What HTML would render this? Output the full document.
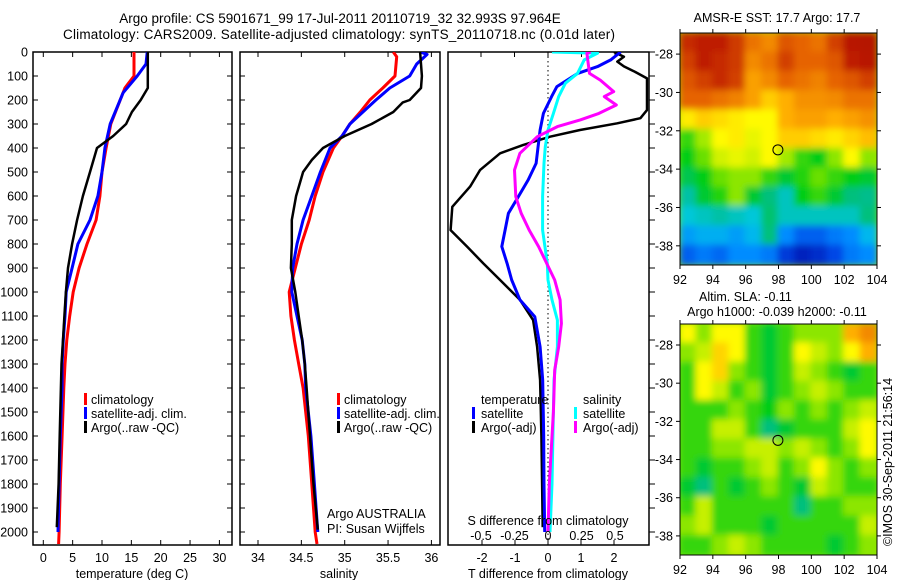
<!DOCTYPE html>
<html><head><meta charset="utf-8">
<style>
html,body{margin:0;padding:0;background:#fff;}
svg{display:block;font-family:"Liberation Sans",sans-serif;}
text{font-size:12.5px;fill:#000;}
</style></head>
<body>
<svg id="chart" width="900" height="580" viewBox="0 0 900 580" xmlns="http://www.w3.org/2000/svg">
<text x="340" y="23" text-anchor="middle" style="font-size:13.5px">Argo profile: CS 5901671_99 17-Jul-2011 20110719_32 32.993S 97.964E</text>
<text x="339" y="39" text-anchor="middle" style="font-size:13.5px" textLength="552">Climatology: CARS2009. Satellite-adjusted climatology: synTS_20110718.nc (0.01d later)</text>
<g id="panels"></g>
</svg>
<script>
// ---- data ----
const depthTicks = [0,100,200,300,400,500,600,700,800,900,1000,1100,1200,1300,1400,1500,1600,1700,1800,1900,2000];
const tempTicks = [0,5,10,15,20,25,30];
const salTicks = [34,34.5,35,35.5,36];
const salTickLabels = ["34","34.5","35","35.5","36"];
const tdTicks = [-2,-1,0,1,2];
const sdTicks = [-0.5,-0.25,0,0.25,0.5];
const sdTickLabels = ["-0.5","-0.25","0","0.25","0.5"];

const tClimDepth = [0,100,150,200,300,400,500,600,700,800,900,1000,1100,1200,1300,1400,1600,1800,2000,2050];
const tClimVal   = [15.45,15.45,13.9,13.1,11.5,10.7,10.0,9.65,9.0,7.45,6.1,5.1,4.5,4.0,3.7,3.5,3.2,2.9,2.7,2.6];
const tSatDepth = [0,50,100,170,300,400,500,600,700,800,900,1000,1100,1200,1300,1400,1600,1800,2000];
const tSatVal   = [17.7,17.5,16.0,13.6,11.4,10.5,10.0,9.3,7.95,5.9,4.9,3.9,3.7,3.4,3.2,3.2,2.9,2.7,2.5];
const tArgoDepth = [0,150,200,250,300,350,400,500,600,700,800,900,1000,1100,1200,1300,1400,1600,1800,1980];
const tArgoVal   = [17.8,17.8,16.6,15.1,14.1,11.9,9.15,7.95,6.75,5.75,4.9,4.2,3.85,3.6,3.35,3.1,3.0,2.8,2.6,2.3];

const sClimDepth = [0,20,100,150,200,250,300,350,400,500,600,700,800,900,1000,1100,1200,1300,1400,1600,1800,2000,2050];
const sClimVal   = [35.56,35.6,35.58,35.44,35.29,35.18,35.06,34.97,34.87,34.75,34.66,34.59,34.5,34.43,34.36,34.38,34.42,34.47,34.52,34.58,34.62,34.66,34.68];
const sSatDepth = [0,10,50,100,150,200,250,300,350,400,500,600,700,800,900,1000,1100,1200,1300,1400,1600,1800,2000];
const sSatVal   = [35.87,35.95,35.83,35.75,35.52,35.36,35.21,35.06,34.97,34.83,34.72,34.62,34.52,34.45,34.4,34.39,34.45,34.51,34.54,34.55,34.61,34.65,34.69];
const sArgoDepth = [0,100,150,200,210,250,300,350,400,450,500,600,700,800,900,1000,1100,1200,1300,1400,1600,1800,1990];
const sArgoVal   = [35.87,35.89,35.88,35.75,35.67,35.56,35.31,35.0,34.75,34.62,34.52,34.44,34.39,34.39,34.38,34.43,34.47,34.51,34.54,34.56,34.6,34.64,34.69];

const tdSatDepth = [0,33,61,89,144,186,256,325,394,464,533,603,672,742,811,881,950,1033,1103,1228,1367,1600,1800,2000];
const tdSatVal   = [2.2,1.9,1.5,0.9,0.27,0.11,-0.14,-0.24,-0.3,-0.36,-0.6,-0.9,-1.2,-1.3,-1.4,-1.24,-1.1,-0.85,-0.4,-0.24,-0.16,-0.13,-0.12,-0.1];
const tdArgoDepth = [0,20,40,60,80,110,242,276,297,325,353,387,422,492,561,645,742,811,881,950,1033,1117,1228,1367,1600,1800,1980];
const tdArgoVal   = [2.0,2.3,2.1,2.3,2.6,3.0,3.0,2.8,2.1,0.97,0.06,-0.75,-1.45,-2.06,-2.36,-2.9,-2.95,-2.45,-1.96,-1.45,-0.85,-0.45,-0.33,-0.24,-0.2,-0.18,-0.16];
const sdSatDepth = [0,5,33,89,130,186,256,325,394,464,603,742,881,950,1033,1117,1228,1367,1500,1800,2000];
const sdSatVal   = [0.03,0.37,0.27,0.22,0.13,0.08,0.04,0.0,-0.02,-0.03,-0.04,-0.04,-0.005,0.0,0.03,0.07,0.07,0.045,0.04,0.03,0.015];
const sdArgoDepth = [0,5,47,89,117,165,186,221,256,283,311,353,422,492,603,672,742,811,881,950,1033,1131,1228,1325,1500,1800,2000];
const sdArgoVal   = [0.32,0.29,0.3,0.31,0.39,0.49,0.42,0.51,0.38,0.24,0.07,-0.08,-0.21,-0.25,-0.24,-0.2,-0.14,-0.07,-0.01,0.05,0.09,0.1,0.08,0.05,0.04,0.01,0.0];

const lonTicks = [92,94,96,98,100,102,104];
const latTicks = [-28,-30,-32,-34,-36,-38];
const sstGrid = [
 [0.88,0.9,0.9,0.86,0.78,0.75,0.82,0.8,0.78,0.85,0.92,0.93],
 [0.85,0.9,0.88,0.86,0.75,0.78,0.85,0.8,0.8,0.82,0.9,0.92],
 [0.82,0.85,0.88,0.85,0.72,0.75,0.8,0.78,0.76,0.8,0.82,0.85],
 [0.8,0.8,0.78,0.76,0.72,0.66,0.7,0.74,0.74,0.75,0.78,0.78],
 [0.62,0.66,0.64,0.62,0.6,0.6,0.7,0.72,0.72,0.7,0.72,0.74],
 [0.45,0.52,0.6,0.62,0.58,0.6,0.66,0.66,0.64,0.62,0.65,0.68],
 [0.42,0.48,0.56,0.58,0.56,0.6,0.52,0.45,0.42,0.5,0.6,0.5],
 [0.38,0.42,0.48,0.5,0.5,0.45,0.4,0.44,0.48,0.45,0.42,0.4],
 [0.32,0.4,0.44,0.5,0.4,0.35,0.3,0.42,0.45,0.4,0.35,0.34],
 [0.28,0.3,0.32,0.3,0.28,0.36,0.3,0.3,0.3,0.3,0.3,0.35],
 [0.22,0.24,0.24,0.22,0.25,0.35,0.2,0.15,0.15,0.18,0.2,0.25],
 [0.15,0.18,0.16,0.2,0.2,0.18,0.1,0.06,0.08,0.12,0.18,0.2]];
const slaGrid = [
 [0.6,0.5,0.6,0.6,0.45,0.4,0.45,0.5,0.5,0.5,0.7,0.75],
 [0.5,0.55,0.65,0.6,0.45,0.4,0.45,0.6,0.55,0.5,0.6,0.7],
 [0.45,0.6,0.65,0.5,0.45,0.4,0.45,0.55,0.5,0.45,0.4,0.45],
 [0.45,0.6,0.55,0.45,0.5,0.4,0.45,0.5,0.55,0.5,0.45,0.45],
 [0.45,0.45,0.45,0.5,0.45,0.42,0.5,0.45,0.5,0.45,0.5,0.55],
 [0.45,0.45,0.55,0.55,0.45,0.35,0.4,0.45,0.45,0.45,0.55,0.6],
 [0.45,0.45,0.5,0.5,0.55,0.55,0.5,0.55,0.5,0.45,0.5,0.6],
 [0.45,0.4,0.45,0.45,0.5,0.55,0.45,0.5,0.6,0.5,0.45,0.5],
 [0.4,0.35,0.45,0.4,0.45,0.5,0.45,0.4,0.55,0.5,0.45,0.45],
 [0.45,0.55,0.45,0.45,0.45,0.45,0.45,0.35,0.45,0.45,0.5,0.5],
 [0.5,0.55,0.45,0.45,0.45,0.4,0.45,0.45,0.45,0.45,0.45,0.55],
 [0.45,0.45,0.5,0.55,0.5,0.45,0.45,0.45,0.45,0.4,0.45,0.5]];
const floatLon = 97.964, floatLat = -32.993;

// ---- scales ----
const NS = "http://www.w3.org/2000/svg";
const root = document.getElementById('panels');
const yD = d => 52 + d*0.24;
const xT = t => 43.3 + t*5.87;
const xS = s => 258 + (s-34)*86.7;
const xTd = t => 548 + t*33;
const xSd = s => 548 + s*134;
function mk(tag, attrs, parent){ const e=document.createElementNS(NS,tag); for(const k in attrs) e.setAttribute(k,attrs[k]); (parent||root).appendChild(e); return e; }
function txt(x,y,s,anchor,parent){ const e=mk('text',{x:x,y:y,'text-anchor':anchor||'start'},parent); e.textContent=s; return e; }

const defs = mk('defs',{});
[['c1',33,52,199,493],['c2',240,52,200,493],['c3',448,52,201,493],['m1',680,33,197,232],['m2',680,324,197,231]].forEach(c=>{
  const cp = mk('clipPath',{id:c[0]},defs); mk('rect',{x:c[1],y:c[2],width:c[3],height:c[4]},cp);
});
const blur = mk('filter',{id:'bl',x:'-5%',y:'-5%',width:'110%',height:'110%'},defs);
mk('feGaussianBlur',{stdDeviation:'3.5'},blur);

function line(depths, vals, xf, color, w, clip, name){
  const pts = depths.map((d,i)=> xf(vals[i]).toFixed(1)+','+yD(d).toFixed(1)).join(' ');
  const p = mk('polyline',{points:pts,fill:'none',stroke:color,'stroke-width':w,'stroke-linejoin':'round','clip-path':'url(#'+clip+')'});
  
  
}

function frame(x0,x1,name){
  const r = mk('rect',{x:x0,y:52,width:x1-x0,height:493,fill:'none',stroke:'#000','stroke-width':1.5});
  
  
}

// Panel 1: temperature
frame(33,232,'temperature-panel');
depthTicks.forEach(d=>{
  mk('line',{x1:33,x2:38,y1:yD(d),y2:yD(d),stroke:'#000'});
  mk('line',{x1:227,x2:232,y1:yD(d),y2:yD(d),stroke:'#000'});
  mk('line',{x1:240,x2:245,y1:yD(d),y2:yD(d),stroke:'#000'});
  mk('line',{x1:649,x2:655,y1:yD(d),y2:yD(d),stroke:'#000'});
  const t = txt(28,yD(d)+4.5,String(d),'end');
  
  
});
tempTicks.forEach(v=>{
  mk('line',{x1:xT(v),x2:xT(v),y1:545,y2:540,stroke:'#000'});
  mk('line',{x1:xT(v),x2:xT(v),y1:52,y2:57,stroke:'#000'});
  const t = txt(xT(v),562,String(v),'middle');
  
  
});
let e = txt(132,578,'temperature (deg C)','middle');


line(tClimDepth,tClimVal,xT,'#f00',3,'c1','temperature-climatology-line');
line(tSatDepth,tSatVal,xT,'#00f',3,'c1','temperature-satellite-line');
line(tArgoDepth,tArgoVal,xT,'#000',2.5,'c1','temperature-argo-line');

// Panel 2: salinity
frame(240,440,'salinity-panel');
salTicks.forEach((v,i)=>{
  mk('line',{x1:xS(v),x2:xS(v),y1:545,y2:540,stroke:'#000'});
  mk('line',{x1:xS(v),x2:xS(v),y1:52,y2:57,stroke:'#000'});
  const t = txt(xS(v),562,salTickLabels[i],'middle');
  
  
});
e = txt(339,578,'salinity','middle');


line(sClimDepth,sClimVal,xS,'#f00',3,'c2','salinity-climatology-line');
line(sSatDepth,sSatVal,xS,'#00f',3,'c2','salinity-satellite-line');
line(sArgoDepth,sArgoVal,xS,'#000',2.5,'c2','salinity-argo-line');

function legend(x,name){
  const g = mk('g',{});
  
  
  [['#f00','climatology'],['#00f','satellite-adj. clim.'],['#000','Argo(..raw -QC)']].forEach((it,i)=>{
    mk('rect',{x:x,y:393+i*14,width:3,height:12,fill:it[0]},g);
    txt(x+7,404+i*14,it[1],'start',g);
  });
}
legend(84,'temperature-legend');
legend(337,'salinity-legend');
e = txt(327,518,'Argo AUSTRALIA','start');


e = txt(327,533,'PI: Susan Wijffels','start');



// Panel 3: differences
frame(448,649,'difference-panel');
mk('line',{x1:548,x2:548,y1:52,y2:545,stroke:'#000','stroke-dasharray':'1.5,3'});
sdTicks.forEach(v=>{ mk('line',{x1:xSd(v),x2:xSd(v),y1:52,y2:57,stroke:'#000'}); });
tdTicks.forEach(v=>{
  mk('line',{x1:xTd(v),x2:xTd(v),y1:545,y2:540,stroke:'#000'});
  const t = txt(xTd(v),562,String(v),'middle');
  
  
});
line(tdArgoDepth,tdArgoVal,xTd,'#000',2.5,'c3','tdiff-argo-line');
line(tdSatDepth,tdSatVal,xTd,'#00f',3,'c3','tdiff-satellite-line');
line(sdSatDepth,sdSatVal,xSd,'#0ff',3,'c3','sdiff-satellite-line');
line(sdArgoDepth,sdArgoVal,xSd,'#f0f',3,'c3','sdiff-argo-line');
sdTicks.forEach((v,i)=>{
  const t = txt(xSd(v),540,sdTickLabels[i],'middle');
  
  
});
e = txt(548,525,'S difference from climatology','middle');


e = txt(548,578,'T difference from climatology','middle');


const lg3 = mk('g',{});


txt(481,404,'temperature','start',lg3);
mk('rect',{x:472,y:407,width:3,height:12,fill:'#00f'},lg3); txt(481,418,'satellite','start',lg3);
mk('rect',{x:472,y:421,width:3,height:12,fill:'#000'},lg3); txt(481,432,'Argo(-adj)','start',lg3);
txt(583,404,'salinity','start',lg3);
mk('rect',{x:574,y:407,width:3,height:12,fill:'#0ff'},lg3); txt(583,418,'satellite','start',lg3);
mk('rect',{x:574,y:421,width:3,height:12,fill:'#f0f'},lg3); txt(583,432,'Argo(-adj)','start',lg3);

// ---- maps ----
const cmapStops = [
 [0.0,[0,0,150]],[0.12,[0,70,230]],[0.2,[0,140,255]],[0.27,[0,200,230]],[0.34,[0,190,140]],
 [0.42,[0,205,20]],[0.5,[140,230,0]],[0.6,[255,250,0]],[0.7,[255,175,0]],[0.8,[230,100,0]],
 [0.9,[190,30,0]],[1.0,[160,0,0]]];
function cmap(v){
  v=Math.max(0,Math.min(1,v));
  for(let i=1;i<cmapStops.length;i++){
    if(v<=cmapStops[i][0]){
      const a=cmapStops[i-1], b=cmapStops[i], f=(v-a[0])/(b[0]-a[0]);
      const c=a[1].map((x,k)=>Math.round(x+(b[1][k]-x)*f));
      return 'rgb('+c.join(',')+')';
    }
  }
  return 'rgb(160,0,0)';
}
function map(grid, top, bottom, clip, name, latTop){
  const x0=680,x1=877;
  const xL = lon => x0 + (lon-92)*(x1-x0)/12;
  const yL = lat => top + (latTop-lat)*(bottom-top)/(latTop+39);
  const g = mk('g',{'clip-path':'url(#'+clip+')'});
  
  
  mk('rect',{x:x0,y:top,width:x1-x0,height:bottom-top,fill:cmap(grid[6][6])},g);
  const inner = mk('g',{filter:'url(#bl)'},g);
  const rows = grid.length, cols = grid[0].length;
  grid.forEach((row,i)=>row.forEach((v,j)=>{
    const c = mk('rect',{x:x0+j*(x1-x0)/cols-1,y:top+i*(bottom-top)/rows-1,width:(x1-x0)/cols+2,height:(bottom-top)/rows+2,fill:cmap(v)},inner);
    
    
  }));
  mk('rect',{x:x0,y:top,width:x1-x0,height:bottom-top,fill:'none',stroke:'#000'});
  lonTicks.forEach(l=>{
    mk('line',{x1:xL(l),x2:xL(l),y1:bottom,y2:bottom+4,stroke:'#000'});
    mk('line',{x1:xL(l),x2:xL(l),y1:top,y2:top-4,stroke:'#000'});
    const t = txt(xL(l),bottom+19,String(l),'middle');
    
    
  });
  latTicks.forEach(l=>{
    mk('line',{x1:x0,x2:x0-4,y1:yL(l),y2:yL(l),stroke:'#000'});
    mk('line',{x1:x1,x2:x1+4,y1:yL(l),y2:yL(l),stroke:'#000'});
    const t = txt(673,yL(l)+4.5,String(l),'end');
    
    
  });
  const c = mk('circle',{cx:xL(floatLon),cy:yL(floatLat),r:5,fill:'none',stroke:'#000','stroke-width':1});
  
  
}
map(sstGrid,33,265,'m1','sst-map',-26.9);
map(slaGrid,324,555,'m2','sla-map',-26.9);
e = txt(777,22,'AMSR-E SST: 17.7 Argo: 17.7','middle');


e = txt(699,301,'Altim. SLA: -0.11','start');


e = txt(777,316,'Argo h1000: -0.039 h2000: -0.11','middle');


e = txt(0,0,'©IMOS 30-Sep-2011 21:56:14','middle');
e.setAttribute('transform','translate(892,462) rotate(-90)');


</script>
</body></html>
